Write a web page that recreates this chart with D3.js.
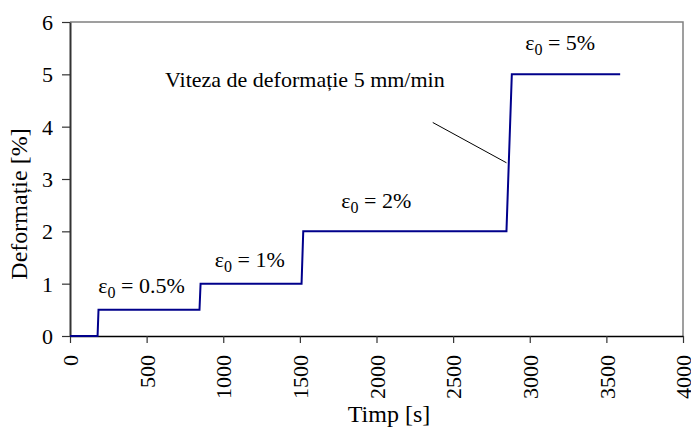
<!DOCTYPE html>
<html>
<head>
<meta charset="utf-8">
<script src="https://cdn.jsdelivr.net/npm/d3@7"></script>
<style>
  html, body { margin: 0; padding: 0; background: #fff; }
  svg { display: block; font-family: "Liberation Serif", "Times New Roman", serif; }
</style>
</head>
<body>
<svg id="chart" width="691" height="427"></svg>
<script>
// Strain history: time [s] vs strain [%]
const timeS   = [0, 180, 186, 845, 852, 1511, 1522, 2848, 2883, 3590];
const strainP = [0, 0, 0.5, 0.5, 1, 1, 2, 2, 5, 5];

const xTicks = [0, 500, 1000, 1500, 2000, 2500, 3000, 3500, 4000];
const yTicks = [0, 1, 2, 3, 4, 5, 6];

// Level labels: [time, strain, text value]
const levelLabels = [
  { t: 185,  v: 0.82, val: "0.5%" },
  { t: 945,  v: 1.32, val: "1%" },
  { t: 1770, v: 2.45, val: "2%" },
  { t: 2970, v: 5.47, val: "5%" }
];

const rateText = "Viteza de deformație 5 mm/min";
const rateAnchor = { t: 620, v: 4.75 };
const leader = { t1: 2367, v1: 4.08, t2: 2848, v2: 3.31 };

const svg = d3.select("#chart");
const M = { left: 70, right: 691 - 683, top: 22, bottom: 427 - 336 };
const W = 691, H = 427;

const x = d3.scaleLinear().domain([0, 4000]).range([M.left, W - M.right]);
const y = d3.scaleLinear().domain([0, 6]).range([H - M.bottom, M.top]);

// Plot frame: top and right in gray
svg.append("path")
  .attr("d", `M${x(0)},${y(6)}H${x(4000)}V${y(0)}`)
  .attr("fill", "none").attr("stroke", "#808080").attr("stroke-width", 1.5);

// Y axis
const yAxis = svg.append("g").attr("transform", `translate(${x(0)},0)`)
  .call(d3.axisLeft(y).tickValues(yTicks).tickSize(8).tickSizeOuter(0).tickFormat(d3.format("d")));
yAxis.select(".domain").attr("stroke", "#333").attr("stroke-width", 2);
yAxis.selectAll(".tick line").attr("stroke", "#333").attr("stroke-width", 1.2);
yAxis.selectAll(".tick text")
  .attr("font-family", "Liberation Serif").attr("font-size", 22).attr("fill", "#000")
  .attr("x", -17).attr("dy", "0.34em");

// X axis
const xAxis = svg.append("g").attr("transform", `translate(0,${y(0)})`)
  .call(d3.axisBottom(x).tickValues(xTicks).tickSize(7).tickSizeOuter(0).tickFormat(d3.format("d")));
xAxis.select(".domain").attr("stroke", "#000").attr("stroke-width", 1.5);
xAxis.selectAll(".tick line").attr("stroke", "#333").attr("stroke-width", 1.2);
xAxis.selectAll(".tick text")
  .attr("font-family", "Liberation Serif").attr("font-size", 22).attr("fill", "#000")
  .attr("transform", "rotate(-90)")
  .attr("text-anchor", "end")
  .attr("x", -19).attr("y", 0).attr("dy", "0.35em");

// Axis titles
svg.append("text")
  .attr("x", 389).attr("y", 422)
  .attr("text-anchor", "middle").attr("font-size", 24)
  .text("Timp [s]");

svg.append("text")
  .attr("transform", `translate(27,204) rotate(-90)`)
  .attr("text-anchor", "middle").attr("font-size", 24)
  .text("Deformație [%]");

// Strain step curve
const line = d3.line().x(d => x(d[0])).y(d => y(d[1]));
svg.append("path")
  .datum(d3.zip(timeS, strainP))
  .attr("d", line)
  .attr("fill", "none").attr("stroke", "#00008b").attr("stroke-width", 2);

// Level labels with subscript zero
levelLabels.forEach(l => {
  const t = svg.append("text")
    .attr("x", x(l.t)).attr("y", y(l.v))
    .attr("font-size", 22);
  t.append("tspan").text("ε");
  t.append("tspan").attr("font-size", 16).attr("dy", 5).text("0");
  t.append("tspan").attr("dy", -5).text(" = " + l.val);
});

// Strain-rate note with leader line
svg.append("text")
  .attr("x", x(rateAnchor.t)).attr("y", y(rateAnchor.v))
  .attr("font-size", 22)
  .text(rateText);
svg.append("line")
  .attr("x1", x(leader.t1)).attr("y1", y(leader.v1))
  .attr("x2", x(leader.t2)).attr("y2", y(leader.v2))
  .attr("stroke", "#000").attr("stroke-width", 1);
</script>
</body>
</html>
